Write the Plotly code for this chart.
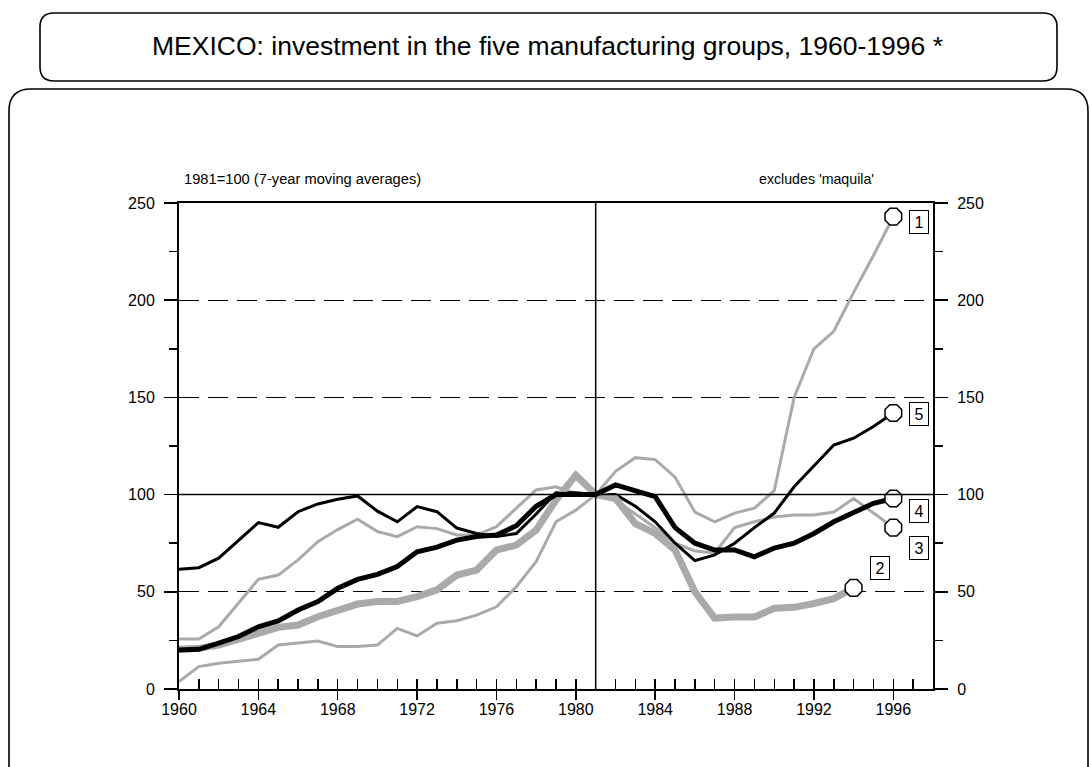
import plotly.graph_objects as go

# ---------------- data ----------------
years = list(range(1960, 1997))
years_g2 = list(range(1960, 1995))

g1 = [3.8, 11.5, 13.2, 14.4, 15.3, 22.6, 23.5, 24.7, 21.8, 21.8, 22.6, 31.2, 27.3, 33.8, 35.1, 38.0,
      42.3, 52.6, 65.5, 86.0, 92.0, 100.0, 112.0, 119.0, 118.0, 109.0, 91.0, 86.0, 90.5, 93.0,
      102.0, 150.0, 175.0, 184.0, 204.0, 223.0, 243.0]
g2 = [20.4, 20.9, 22.6, 25.2, 28.6, 31.7, 32.9, 37.2, 40.6, 43.7, 45.0, 45.0, 47.5, 51.0, 58.6, 61.2,
      71.5, 74.0, 81.8, 97.2, 110.0, 100.0, 98.0, 85.0, 80.0, 71.5, 50.0, 36.5, 37.0, 37.0, 41.5,
      42.0, 44.0, 46.5, 52.0]
g3 = [25.7, 25.7, 32.0, 44.4, 56.4, 58.6, 66.4, 75.8, 82.0, 87.3, 81.0, 78.4, 83.5, 82.5, 79.2, 79.2,
      83.5, 93.0, 102.4, 104.0, 100.6, 100.0, 97.0, 90.0, 83.0, 75.0, 71.0, 70.0, 83.0, 86.0, 88.5,
      89.5, 89.5, 91.0, 98.0, 90.5, 83.0]
g4 = [20.0, 20.4, 23.6, 27.0, 32.0, 35.0, 40.6, 45.0, 51.8, 56.4, 59.0, 63.0, 70.6, 73.0, 76.6, 78.4,
      79.2, 84.0, 94.0, 100.0, 100.0, 100.0, 105.0, 102.0, 99.0, 83.0, 75.0, 71.5, 71.5, 68.0, 72.5,
      75.0, 80.0, 86.0, 91.0, 95.5, 98.0]
g5 = [61.6, 62.4, 67.3, 76.3, 85.6, 83.2, 91.2, 95.2, 97.6, 99.3, 91.5, 86.0, 93.8, 91.2, 82.8, 80.0,
      78.4, 80.0, 90.0, 101.0, 101.0, 100.0, 100.0, 94.0, 86.0, 75.0, 66.0, 69.0, 75.0, 83.0, 90.5,
      104.0, 115.0, 125.5, 129.0, 135.0, 142.0]

group_labels = ["1", "2", "3", "4", "5"]
label_x = [1997.3, 1995.35, 1997.3, 1997.3, 1997.3]
label_y = [240, 62, 72.5, 91.5, 141.5]

x_ticks = list(range(1960, 1997, 4))
base_year = 1981
base_value = 100

title_text = "MEXICO: investment in the five manufacturing groups, 1960-1996 *"
left_note = "1981=100 (7-year moving averages)"
right_note = "excludes 'maquila'"

# ---------------- styling ----------------
GRAY = "#aaaaaa"
FONT = "Liberation Sans, Arial"
W, H = 1091, 767
L, R, T, B = 179, 158, 203, 78
PW, PH = W - L - R, H - T - B

fig = go.Figure()

series = [
    (years, g1, GRAY, 3),
    (years, g3, GRAY, 3),
    (years, g5, "black", 3),
    (years_g2, g2, GRAY, 7),
    (years, g4, "black", 5),
]
for xs, ys, col, w in series:
    fig.add_trace(go.Scatter(x=xs, y=ys, mode="lines", line=dict(color=col, width=w),
                             hoverinfo="skip", showlegend=False))
for xs, ys, col, w in series:
    fig.add_trace(go.Scatter(x=[xs[-1]], y=[ys[-1]], mode="markers",
                             marker=dict(symbol="octagon", size=18, color="white",
                                         line=dict(color="black", width=1.5)),
                             hoverinfo="skip", showlegend=False))

# dummy traces so the overlay axes render
fig.add_trace(go.Scatter(x=[1960], y=[0], xaxis="x2", yaxis="y", mode="lines",
                         line=dict(width=0), hoverinfo="skip", showlegend=False))
fig.add_trace(go.Scatter(x=[1960], y=[0], xaxis="x", yaxis="y2", mode="lines",
                         line=dict(width=0), hoverinfo="skip", showlegend=False))

for lab, lx, ly in zip(group_labels, label_x, label_y):
    fig.add_annotation(x=lx, y=ly, text=lab, showarrow=False, bgcolor="white",
                       bordercolor="black", borderwidth=1, borderpad=2, width=14, height=18,
                       font=dict(family=FONT, size=16, color="black"))


def to_px(X, Y):
    return X - L, (H - B) - Y


def rrect(x0, y0, x1, y1, r):
    def p(X, Y):
        a, b = to_px(X, Y)
        return f"{a:.1f},{b:.1f}"
    return (f"M {p(x0 + r, y0)} L {p(x1 - r, y0)} Q {p(x1, y0)} {p(x1, y0 + r)} "
            f"L {p(x1, y1 - r)} Q {p(x1, y1)} {p(x1 - r, y1)} L {p(x0 + r, y1)} "
            f"Q {p(x0, y1)} {p(x0, y1 - r)} L {p(x0, y0 + r)} Q {p(x0, y0)} {p(x0 + r, y0)} Z")


frame_style = dict(type="path", xref="paper", yref="paper", xsizemode="pixel", ysizemode="pixel",
                   xanchor=0, yanchor=0, line=dict(color="black", width=1.6), layer="above")
fig.add_shape(path=rrect(40, 13, 1057, 81, 14), **frame_style)
fig.add_shape(path=rrect(9, 89, 1088, 800, 22), **frame_style)

fig.add_shape(type="line", xref="paper", yref="y", x0=0, x1=1, y0=base_value, y1=base_value,
              line=dict(color="black", width=1.5))
fig.add_shape(type="line", xref="x", yref="paper", x0=base_year, x1=base_year, y0=0, y1=1,
              line=dict(color="black", width=1.5))

fig.add_annotation(xref="paper", yref="paper", x=(547 - L) / PW, y=((H - B) - 46) / PH,
                   text=title_text, showarrow=False, xanchor="center", yanchor="middle",
                   font=dict(family=FONT, size=26.5, color="black"))
fig.add_annotation(xref="paper", yref="paper", x=(182 - L) / PW, y=((H - B) - 179) / PH,
                   text=left_note, showarrow=False, xanchor="left", yanchor="middle",
                   font=dict(family=FONT, size=14.7, color="black"))
fig.add_annotation(xref="paper", yref="paper", x=(816 - L) / PW, y=((H - B) - 179) / PH,
                   text=right_note, showarrow=False, xanchor="center", yanchor="middle",
                   font=dict(family=FONT, size=14.2, color="black"))

tickfont = dict(family=FONT, size=16, color="black")
yax_common = dict(range=[0, 250], tick0=0, dtick=50, ticks="outside", ticklen=13, tickwidth=1.5,
                  tickcolor="black", showline=True, linewidth=2, linecolor="black",
                  zeroline=False, tickfont=tickfont, fixedrange=True, ticklabelstandoff=6,
                  minor=dict(dtick=25, tick0=0, ticks="outside", ticklen=8, tickwidth=1.5,
                             tickcolor="black", showgrid=False))

fig.update_layout(
    width=W, height=H, margin=dict(l=L, r=R, t=T, b=B),
    paper_bgcolor="white", plot_bgcolor="white", showlegend=False,
    xaxis=dict(range=[1960, 1998], tickvals=x_ticks, ticks="outside", ticklen=9, tickwidth=1.5,
               tickcolor="black", showline=True, linewidth=2, linecolor="black", mirror=True,
               showgrid=False, zeroline=False, tickfont=tickfont, ticklabelstandoff=-4,
               fixedrange=True),
    xaxis2=dict(range=[1960, 1998], overlaying="x", anchor="y", side="bottom", tick0=1960, dtick=1,
                ticks="inside", ticklen=10, tickwidth=1.5, tickcolor="black",
                showticklabels=False, showline=False, showgrid=False, zeroline=False,
                fixedrange=True),
    yaxis=dict(**yax_common, showgrid=True, gridcolor="black", gridwidth=1.3, griddash="20px,9px"),
    yaxis2=dict(**yax_common, overlaying="y", side="right", anchor="x", showgrid=False),
)

fig.write_html("out.html", config={"displayModeBar": False, "staticPlot": True},
               post_script="document.body.style.margin='0px';document.body.style.overflow='hidden';")
